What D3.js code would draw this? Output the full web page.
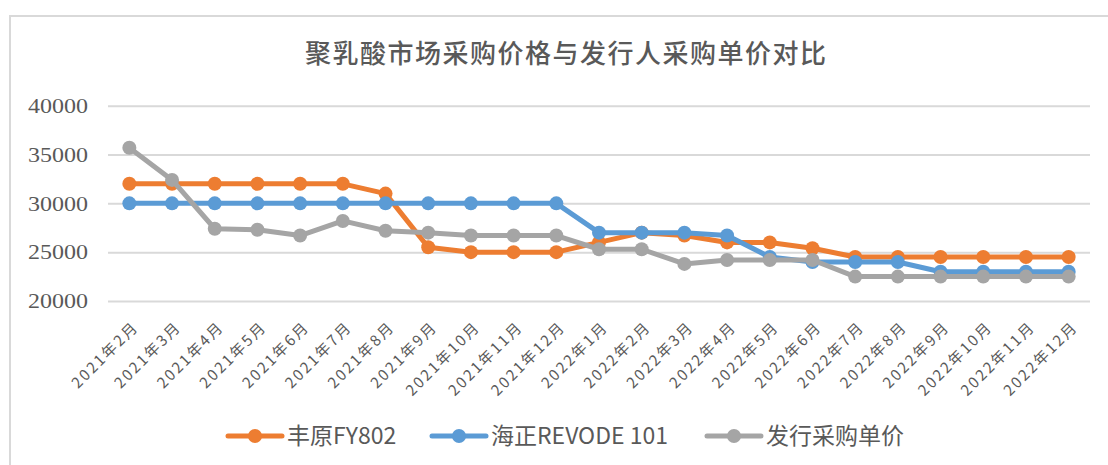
<!DOCTYPE html>
<html>
<head>
<meta charset="utf-8">
<script src="https://cdn.jsdelivr.net/npm/d3@7"></script>
<style>
  body { margin: 0; background: #fff; }
  svg { display: block; }
</style>
</head>
<body>
<div id="chart"></div>
<script>
// data
const categories = [
  '2021年2月', '2021年3月', '2021年4月', '2021年5月', '2021年6月', '2021年7月',
  '2021年8月', '2021年9月', '2021年10月', '2021年11月', '2021年12月',
  '2022年1月', '2022年2月', '2022年3月', '2022年4月', '2022年5月', '2022年6月',
  '2022年7月', '2022年8月', '2022年9月', '2022年10月', '2022年11月', '2022年12月'
];
const fengyuan = [32000, 32000, 32000, 32000, 32000, 32000, 31000, 25500, 25000, 25000, 25000,
  26000, 27000, 26700, 26000, 26000, 25400, 24500, 24500, 24500, 24500, 24500, 24500];
const haizheng = [30000, 30000, 30000, 30000, 30000, 30000, 30000, 30000, 30000, 30000, 30000,
  27000, 27000, 27000, 26700, 24500, 24000, 24000, 24000, 23000, 23000, 23000, 23000];
const issuer = [35700, 32400, 27400, 27300, 26700, 28200, 27200, 27000, 26700, 26700, 26700,
  25300, 25300, 23800, 24200, 24200, 24200, 22500, 22500, 22500, 22500, 22500, 22500];
const seriesNames = ['丰原FY802', '海正REVODE 101', '发行采购单价'];
const yTicks = [20000, 25000, 30000, 35000, 40000];
const title = '聚乳酸市场采购价格与发行人采购单价对比';

const colors = ['#ED7D31', '#5B9BD5', '#A5A5A5'];
const series = [fengyuan, haizheng, issuer];

const W = 1108, H = 465;
const plotLeft = 108, plotRight = 1090, plotTop = 105.7, plotBottom = 301;
const textColor = '#595959';

const svg = d3.select('#chart').append('svg')
  .attr('width', W).attr('height', H);

svg.append('rect').attr('width', W).attr('height', H).attr('fill', '#fff');
// chart frame (right and bottom edges fall outside the picture)
svg.append('rect')
  .attr('x', 10).attr('y', 16).attr('width', W + 20).attr('height', H + 20)
  .attr('fill', 'none').attr('stroke', '#d9d9d9').attr('stroke-width', 2);

svg.append('text')
  .attr('x', (299 + 832) / 2 + 0.8).attr('y', 56)
  .attr('text-anchor', 'middle').attr('dominant-baseline', 'middle')
  .attr('fill', textColor)
  .style('font-family', '"Noto Sans CJK SC", sans-serif')
  .style('font-size', '26px').style('font-weight', 500)
  .style('letter-spacing', '1.5px')
  .text(title);

const x = d3.scalePoint().domain(categories).range([plotLeft, plotRight]).padding(0.5);
const y = d3.scaleLinear().domain([20000, 40000]).range([plotBottom, plotTop]);

// y axis with gridlines
const yAxis = svg.append('g')
  .attr('transform', `translate(${plotLeft},0)`)
  .call(d3.axisLeft(y).tickValues(yTicks).tickSize(-(plotRight - plotLeft)).tickPadding(20).tickFormat(d3.format('d')));
yAxis.select('.domain').remove();
yAxis.selectAll('line').attr('stroke', '#d9d9d9').attr('stroke-width', 2);
yAxis.selectAll('text')
  .attr('fill', textColor)
  .attr('font-family', '"Liberation Serif", serif')
  .style('font-family', '"Liberation Serif", serif')
  .style('font-size', '21px')
  .attr('textLength', 60).attr('lengthAdjust', 'spacingAndGlyphs');

// x axis, rotated labels
const xAxis = svg.append('g')
  .attr('transform', `translate(0,${plotBottom})`)
  .call(d3.axisBottom(x).tickSize(0));
xAxis.select('.domain').remove();
xAxis.selectAll('text')
  .attr('x', 0).attr('y', 0).attr('dy', '0.35em')
  .attr('text-anchor', 'end')
  .attr('transform', 'translate(6,23) rotate(-45)')
  .attr('fill', textColor)
  .style('font-family', '"Noto Sans CJK SC", sans-serif')
  .style('font-size', '15px')
  .style('letter-spacing', '2.2px');

const line = d3.line()
  .x((d, i) => x(categories[i]))
  .y(d => y(d));

series.forEach((vals, k) => {
  const g = svg.append('g');
  g.append('path')
    .datum(vals)
    .attr('d', line)
    .attr('fill', 'none')
    .attr('stroke', colors[k])
    .attr('stroke-width', 5)
    .attr('stroke-linejoin', 'round');
  g.selectAll('circle')
    .data(vals)
    .join('circle')
    .attr('cx', (d, i) => x(categories[i]))
    .attr('cy', d => y(d))
    .attr('r', 7)
    .attr('fill', colors[k]);
});

// legend
const legendX = [228, 432, 707];
const legendY = 436;
seriesNames.forEach((name, k) => {
  const g = svg.append('g').attr('transform', `translate(${legendX[k]},${legendY})`);
  g.append('line')
    .attr('x1', 0).attr('x2', 54)
    .attr('stroke', colors[k]).attr('stroke-width', 5).attr('stroke-linecap', 'round');
  g.append('circle').attr('cx', 27).attr('r', 7).attr('fill', colors[k]);
  g.append('text')
    .attr('x', 59).attr('dy', '0.35em')
    .attr('fill', textColor)
    .style('font-family', '"Noto Sans CJK SC", sans-serif')
    .style('font-size', '23px')
    .text(name);
});
</script>
</body>
</html>
